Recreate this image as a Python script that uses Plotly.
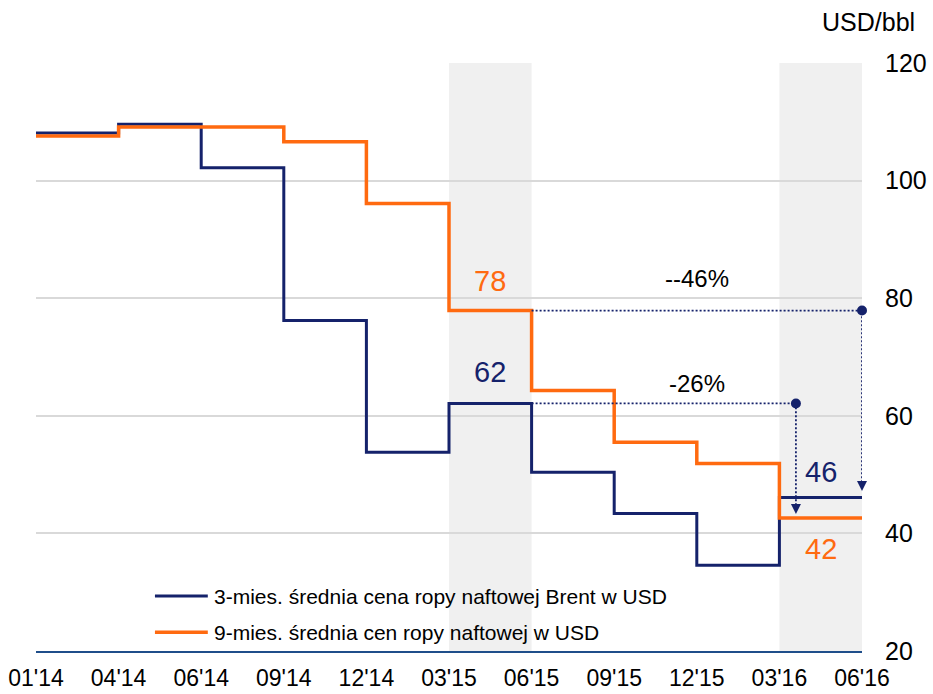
import plotly.graph_objects as go

# ---------------- data ----------------
tick_labels = ["01'14", "04'14", "06'14", "09'14", "12'14", "03'15",
               "06'15", "09'15", "12'15", "03'16", "06'16"]
x_idx = list(range(len(tick_labels)))

brent_3m = [108.1, 109.6, 102.2, 76.2, 53.8, 62.1, 50.4, 43.4, 34.6, 46.1]
avg_9m = [107.6, 109.1, 109.1, 106.6, 96.1, 77.9, 64.3, 55.5, 51.9, 42.6]

name_3m = "3-mies. średnia cena ropy naftowej Brent w USD"
name_9m = "9-mies. średnia cen ropy naftowej w USD"

shaded_periods = [(5, 6), (9, 10)]

# comparison markers: start x, end x, start value, arrow-tip value, label
cmp_9m = dict(x0=6, x1=10, v0=avg_9m[5], tip=47.2, label="--46%", lx=8.0, dy=32)
cmp_3m = dict(x0=6, x1=9.2, v0=brent_3m[5], tip=43.3, label="-26%", lx=8.0, dy=20)

value_labels = [
    (5.5, avg_9m[5], "78", "orange", 30),
    (5.5, brent_3m[5], "62", "navy", 31),
    (9.5, brent_3m[9], "46", "navy", 26),
    (9.5, avg_9m[9], "42", "orange", -31),
]

NAVY = "#15226b"
ORANGE = "#ff6a10"
colors = {"navy": NAVY, "orange": ORANGE}
FONT = "Liberation Sans, Arial, sans-serif"

fig = go.Figure()

# step lines (repeat final value so the last step reaches the right edge)
fig.add_trace(go.Scatter(x=x_idx, y=brent_3m + [brent_3m[-1]], mode="lines",
                         line=dict(color=NAVY, width=3, shape="hv"),
                         name=name_3m, showlegend=False, hoverinfo="skip"))
fig.add_trace(go.Scatter(x=x_idx, y=avg_9m + [avg_9m[-1]], mode="lines",
                         line=dict(color=ORANGE, width=3.5, shape="hv"),
                         name=name_9m, showlegend=False, hoverinfo="skip"))

# dotted comparison paths
for c in (cmp_9m, cmp_3m):
    fig.add_trace(go.Scatter(
        x=[c["x0"], c["x1"], c["x1"]], y=[c["v0"], c["v0"], c["tip"] + 1.5],
        mode="lines", line=dict(color=NAVY, width=1.8, dash="2px,2px"),
        showlegend=False, hoverinfo="skip", cliponaxis=False))
    fig.add_trace(go.Scatter(
        x=[c["x1"]], y=[c["v0"]], mode="markers", cliponaxis=False,
        marker=dict(color=NAVY, size=10), showlegend=False, hoverinfo="skip"))
    fig.add_annotation(x=c["x1"], y=c["tip"], ax=0, ay=-9, xref="x", yref="y",
                       showarrow=True, arrowhead=2, arrowsize=2, arrowwidth=1,
                       arrowcolor=NAVY, standoff=0, text="")
    fig.add_annotation(x=c["lx"], y=c["v0"], xref="x", yref="y",
                       yshift=c["dy"], showarrow=False, text=c["label"],
                       font=dict(family=FONT, size=24, color="black"))

# value labels
for x, v, txt, col, dy in value_labels:
    fig.add_annotation(x=x, y=v, xref="x", yref="y", yshift=dy, showarrow=False,
                       text=txt, font=dict(family=FONT, size=29, color=colors[col]))

# shaded periods
for a, b in shaded_periods:
    fig.add_shape(type="rect", xref="x", yref="paper", x0=a, x1=b, y0=0, y1=1,
                  fillcolor="#f0f0f0", line=dict(width=0), layer="below")

# manual legend
for i, (nm, col, w) in enumerate([(name_3m, NAVY, 3), (name_9m, ORANGE, 3.5)]):
    yp = 0.0935 - i * 0.0615
    fig.add_shape(type="line", xref="paper", yref="paper", x0=0.144, x1=0.208,
                  y0=yp, y1=yp, line=dict(color=col, width=w))
    fig.add_annotation(x=0.2125, y=yp, xref="paper", yref="paper", xanchor="left",
                       yanchor="middle", showarrow=False, text=nm,
                       font=dict(family=FONT, size=21, color="black"))

# unit label
fig.add_annotation(x=1.0666, y=1.0697, xref="paper", yref="paper", xanchor="right",
                   yanchor="middle", showarrow=False, text="USD/bbl",
                   font=dict(family=FONT, size=25, color="black"))

fig.update_layout(
    width=933, height=694,
    margin=dict(l=36, r=71, t=63, b=43, autoexpand=False),
    paper_bgcolor="white", plot_bgcolor="white",
    font=dict(family=FONT, color="black"),
    showlegend=False,
    xaxis=dict(range=[0, 10], tickvals=x_idx, ticktext=tick_labels,
               showgrid=False, zeroline=False, showline=True, automargin=False,
               linecolor="#1f4e8a", linewidth=1.5, ticks="",
               tickfont=dict(size=23, family=FONT, color="black"),
               ticklabelstandoff=6, fixedrange=True),
    yaxis=dict(range=[20, 120], dtick=20, side="right", showgrid=True,
               gridcolor="#d9d9d9", gridwidth=1.5, zeroline=False, automargin=False,
               showline=False, ticks="",
               tickfont=dict(size=25, family=FONT, color="black"),
               ticklabelstandoff=22, fixedrange=True),
)

fig.write_html("out.html", config={"displayModeBar": False},
               post_script="document.body.style.margin='0';"
                           "document.body.style.overflow='hidden';")
